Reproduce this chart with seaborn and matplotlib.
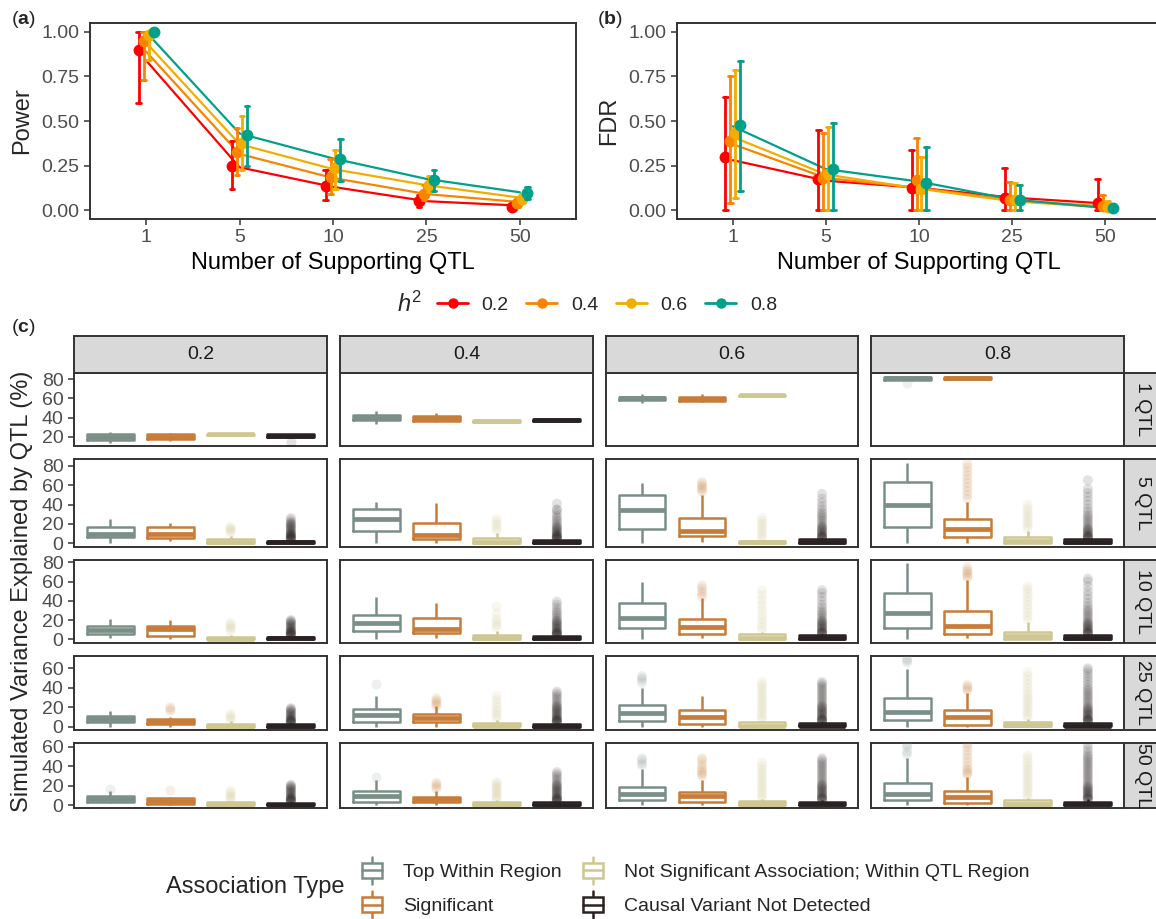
import numpy as np
import pandas as pd
import matplotlib
matplotlib.use("Agg")
import matplotlib.pyplot as plt
import seaborn as sns
from matplotlib.patches import Rectangle, Patch
from matplotlib.lines import Line2D
from matplotlib.legend_handler import HandlerBase

# ---------------- data: panels (a) and (b) ----------------
QTL_LABELS = ["1", "5", "10", "25", "50"]
H2_LEVELS = ["0.2", "0.4", "0.6", "0.8"]
H2_COLORS = ["#FF0000", "#F98400", "#F2AD00", "#00A08A"]

POWER_MED = [
    [0.90, 0.25, 0.136, 0.05, 0.02],
    [0.95, 0.327, 0.187, 0.093, 0.04],
    [0.98, 0.374, 0.234, 0.14, 0.065],
    [1.00, 0.42, 0.284, 0.168, 0.097],
]
POWER_LO = [
    [0.60, 0.116, 0.056, 0.019, 0.01],
    [0.73, 0.196, 0.088, 0.056, 0.02],
    [0.84, 0.224, 0.121, 0.103, 0.045],
    [0.99, 0.249, 0.163, 0.107, 0.065],
]
POWER_HI = [
    [1.00, 0.39, 0.224, 0.082, 0.032],
    [1.00, 0.46, 0.284, 0.14, 0.06],
    [1.00, 0.527, 0.336, 0.19, 0.09],
    [1.00, 0.583, 0.398, 0.224, 0.127],
]
POWER_LINE = [
    [0.84, 0.24, 0.13, 0.05, 0.025],
    [0.89, 0.315, 0.18, 0.09, 0.045],
    [0.94, 0.37, 0.23, 0.14, 0.07],
    [1.00, 0.43, 0.29, 0.175, 0.10],
]

FDR_MED = [
    [0.30, 0.174, 0.125, 0.07, 0.037],
    [0.39, 0.18, 0.168, 0.056, 0.022],
    [0.43, 0.205, 0.12, 0.056, 0.015],
    [0.475, 0.228, 0.153, 0.056, 0.01],
]
FDR_LO = [
    [0.0, 0.0, 0.0, 0.0, 0.0],
    [0.04, 0.0, 0.0, 0.0, 0.0],
    [0.07, 0.0, 0.0, 0.0, 0.0],
    [0.108, 0.0, 0.0, 0.0, 0.0],
]
FDR_HI = [
    [0.632, 0.449, 0.336, 0.234, 0.174],
    [0.75, 0.434, 0.405, 0.159, 0.084],
    [0.785, 0.467, 0.30, 0.153, 0.05],
    [0.835, 0.486, 0.355, 0.14, 0.02],
]
FDR_LINE = [
    [0.28, 0.165, 0.125, 0.07, 0.037],
    [0.37, 0.18, 0.125, 0.055, 0.02],
    [0.41, 0.20, 0.12, 0.05, 0.015],
    [0.47, 0.23, 0.16, 0.06, 0.012],
]

# ---------------- data: panel (c) ----------------
TYPES = ["Top Within Region", "Significant",
         "Not Significant Association; Within QTL Region",
         "Causal Variant Not Detected"]
TYPE_COLORS = ["#7A8F86", "#C87C38", "#CFC791", "#2A2222"]
H2_FACETS = ["0.2", "0.4", "0.6", "0.8"]
QTL_ROWS = ["1 QTL", "5 QTL", "10 QTL", "25 QTL", "50 QTL"]
ROW_YLIM = [(10.2, 87), (-3.8, 86.6), (-3.5, 82.7), (-3.8, 73), (-3.1, 63.8)]
ROW_TICKS = [[20, 40, 60, 80], [0, 20, 40, 60, 80], [0, 20, 40, 60, 80],
             [0, 20, 40, 60], [0, 20, 40, 60]]

# box summaries: [whisker low, q1, median, q3, whisker high]; rows = QTL, cols = h2
TOP_STATS = [
    [[13, 17, 20, 23, 25], [33, 37.5, 40, 43, 46.5], [55.6, 58, 60, 62, 64.7], [79, 79.5, 81, 82.5, 83]],
    [[0, 6.9, 9.3, 17.2, 24.7], [0.7, 13, 24.7, 35.4, 42.3], [0, 14.8, 34, 50.2, 61.9], [0, 16.5, 39.2, 63.6, 83.2]],
    [[1, 5.5, 9.7, 14, 20.8], [0, 8.3, 17.3, 25.6, 43.6], [0, 11.4, 22.5, 37.4, 60], [0, 11.4, 27, 48.4, 79]],
    [[0, 4.8, 7.9, 11, 16], [0, 5.1, 12.3, 17.8, 31.5], [0, 6.2, 14.4, 22.3, 40], [0, 6.5, 15.4, 29, 59]],
    [[2, 3.8, 6.5, 9.9, 14.7], [0, 3.8, 10, 14.7, 26], [0, 5.5, 11.6, 19, 37.2], [0, 5.1, 12, 23.2, 48]],
]
SIG_STATS = [
    [[15, 17.5, 20, 22.5, 24], [35, 36, 39.5, 42, 44.5], [56, 57.5, 59.8, 62, 65], [80, 80, 81, 82, 82]],
    [[2, 5, 10, 17, 21], [0, 4.8, 9, 21.3, 41.6], [1, 7.6, 12.7, 25.8, 49.8], [0, 6.9, 14.4, 24.7, 42.3]],
    [[0, 3.8, 10.4, 13.5, 20], [1, 6.2, 11, 21.8, 38], [1, 5.5, 12.5, 21, 42.6], [1, 5.5, 13.8, 29.4, 61.6]],
    [[0, 3, 5.8, 7.9, 10], [0, 4.5, 8.6, 12.7, 21.2], [0, 3, 9.6, 16.8, 31.5], [0, 1.7, 10.3, 17, 35]],
    [[0, 1, 4.4, 7.2, 8.9], [0, 3, 6.5, 8.9, 15], [0, 3, 9.9, 14, 26], [0, 2.7, 8.9, 15, 29.4]],
]
NS_STATS = [
    [[21.5, 21.8, 22.5, 23.2, 23.5], [34.5, 35, 36, 37, 37.5], [62, 62.5, 63.3, 64, 64.5], None],
    [[0, 0.3, 1.5, 4, 7.6], [0, 0.3, 1.5, 5, 11], [0, 0.2, 1, 2.7, 3.5], [0, 0.5, 2, 6, 12.7]],
    [[0, 0.2, 0.5, 2.8, 4.5], [0, 0.3, 1, 4.5, 9], [0, 0.3, 1.5, 5.5, 8], [0, 0.5, 3.5, 8, 18.3]],
    [[0, 0.1, 0.5, 3, 5.8], [0, 0.2, 0.5, 3.4, 6.8], [0, 0.3, 1, 4.5, 6], [0, 0.4, 1.5, 5, 8]],
    [[0, 0.1, 0.5, 3, 4], [0, 0.2, 0.5, 3.4, 5], [0, 0.3, 1, 4.8, 6], [0, 0.4, 1.5, 5.5, 7]],
]
CAUSAL_STATS = [
    [[19, 19.5, 21, 22.5, 23], [35.5, 36, 37, 38, 38.5], None, None],
    [[0, 0.2, 1, 2.4, 3], [0, 0.2, 1, 3.4, 4], [0, 0.3, 1.5, 4, 5], [0, 0.3, 1.5, 4, 5]],
    [[0, 0.2, 1, 2.8, 3.5], [0, 0.2, 1, 3.5, 4], [0, 0.3, 1.5, 4, 5.5], [0, 0.3, 1.5, 4, 5.5]],
    [[0, 0.1, 0.5, 2.7, 3.5], [0, 0.1, 0.5, 3, 4], [0, 0.2, 1, 3.6, 5], [0, 0.2, 1, 3.6, 5]],
    [[0, 0.1, 0.5, 2, 3], [0, 0.1, 0.5, 3, 3.5], [0, 0.2, 1, 3.6, 5.5], [0, 0.2, 1, 3.8, 6]],
]

# outlying points
TOP_OUT = [
    [[], [], [], [76.5]],
    [[], [], [], []],
    [[], [], [], []],
    [[], [44], [45, 48, 50, 52], [66, 68, 70]],
    [[16.7], [29.4], [41, 43, 46, 48], [52, 55, 60, 62]],
]
SIG_OUT = [
    [[], [], [], []],
    [[], [], [53, 55, 57, 59, 61, 63], [46, 50, 54, 58, 62, 66, 70, 74, 78, 82]],
    [[], [], [44, 47, 50, 53, 56], [64, 66, 68, 70, 72, 75]],
    [[16, 18, 20], [21, 23, 25, 27, 29], [], [37, 39, 41, 43]],
    [[15.7], [17, 19, 21, 23], [30, 32, 34, 36, 39, 42, 46, 48], [31, 33, 35, 37, 40, 44, 48, 52, 56, 60, 63]],
]
NS_OUT = [
    [[], [], [], []],
    [[11, 12.5, 14, 15.5, 17], [13, 16, 19, 22, 25], [5, 8, 11, 14, 17, 20, 23, 26],
     [15, 18, 21, 24, 27, 30, 33, 36, 40]],
    [[9, 11, 13, 15, 17], [12, 15, 18, 21, 27, 34], [9, 13, 17, 21, 26, 31, 36, 41, 46, 51],
     [20, 24, 28, 32, 36, 40, 44, 48, 52, 55]],
    [[7, 9, 11, 13], [8, 11, 14, 17, 20, 24, 28, 32],
     [7, 10, 13, 16, 19, 22, 25, 28, 31, 34, 37, 40, 43, 46],
     [9, 12, 15, 18, 21, 24, 27, 30, 33, 36, 40, 44, 48, 52, 56]],
    [[5, 7, 9, 11, 13, 15], [6, 8, 10, 12, 14, 16, 18, 20, 22, 24],
     [7, 10, 13, 16, 19, 22, 25, 28, 31, 34, 37, 40, 44],
     [8, 11, 14, 17, 20, 23, 26, 29, 32, 35, 38, 41, 44, 48, 51]],
]
CAUSAL_OUT = [
    [[14], [], [], []],
    [[3.5, 4, 4.5, 5, 5.5, 6, 6.5, 7, 7.5, 8, 8.5, 9, 9.5, 10, 11, 12, 13, 14, 15, 16, 17, 18, 19, 20, 21, 22, 24, 26],
     [4, 4.5, 5, 5.5, 6, 6.5, 7, 7.5, 8, 8.5, 9, 10, 11, 12, 13, 14, 15, 16, 17, 18, 20, 22, 24, 26, 28, 31, 34, 35, 41],
     [5, 5.5, 6, 6.5, 7, 7.5, 8, 9, 10, 11, 12, 13, 14, 15, 16, 17, 18, 20, 22, 24, 26, 28, 30, 32, 35, 38, 42, 46, 51],
     [5, 5.5, 6, 6.5, 7, 7.5, 8, 9, 10, 11, 12, 13, 14, 15, 16, 18, 20, 22, 24, 26, 28, 30, 33, 36, 40, 44, 48, 52, 56, 65]],
    [[3.5, 4, 4.5, 5, 5.5, 6, 6.5, 7, 7.5, 8, 8.5, 9, 10, 11, 12, 13, 14, 15, 16, 17, 18, 19, 20],
     [4, 4.5, 5, 5.5, 6, 6.5, 7, 7.5, 8, 9, 10, 11, 12, 13, 14, 15, 16, 17, 18, 19, 20, 22, 24, 26, 28, 30, 33, 36, 39],
     [5.5, 6, 6.5, 7, 7.5, 8, 9, 10, 11, 12, 13, 14, 15, 16, 17, 18, 19, 20, 22, 24, 26, 28, 30, 33, 36, 40, 44, 48, 51],
     [5.5, 6, 6.5, 7, 7.5, 8, 9, 10, 11, 12, 13, 14, 15, 16, 17, 18, 20, 22, 24, 26, 28, 30, 32, 35, 38, 42, 46, 50, 55, 60, 63]],
    [[3.5, 4, 4.5, 5, 5.5, 6, 6.5, 7, 7.5, 8, 9, 10, 11, 12, 13, 14, 15, 16, 17, 18, 19],
     [4, 4.5, 5, 5.5, 6, 6.5, 7, 7.5, 8, 9, 10, 11, 12, 13, 14, 15, 16, 17, 18, 19, 20, 21, 22, 24, 26, 28, 30, 32, 34, 36],
     [5, 5.5, 6, 6.5, 7, 7.5, 8, 9, 10, 11, 12, 13, 14, 15, 16, 17, 18, 19, 20, 21, 22, 24, 26, 28, 30, 32, 34, 36, 38, 40, 42, 44, 46],
     [5, 5.5, 6, 6.5, 7, 7.5, 8, 9, 10, 11, 12, 13, 14, 15, 16, 17, 18, 19, 20, 22, 24, 26, 28, 30, 32, 34, 36, 38, 40, 43, 46, 49, 52, 55, 58, 60]],
    [[3.5, 4, 4.5, 5, 5.5, 6, 6.5, 7, 7.5, 8, 9, 10, 11, 12, 13, 14, 15, 16, 17, 18, 19, 20, 21],
     [4, 4.5, 5, 5.5, 6, 6.5, 7, 7.5, 8, 9, 10, 11, 12, 13, 14, 15, 16, 17, 18, 19, 20, 21, 22, 24, 26, 28, 30, 32, 34],
     [5.5, 6, 6.5, 7, 7.5, 8, 9, 10, 11, 12, 13, 14, 15, 16, 17, 18, 19, 20, 21, 22, 24, 26, 28, 30, 32, 34, 36, 38, 40, 42, 44, 46, 48],
     [6, 6.5, 7, 7.5, 8, 9, 10, 11, 12, 13, 14, 15, 16, 17, 18, 19, 20, 22, 24, 26, 28, 30, 32, 34, 36, 38, 40, 42, 44, 46, 48, 50, 52, 55, 58, 62]],
]

# ---------------- style ----------------
sns.set_theme(style="ticks")
plt.rcParams['font.family'] = ['Liberation Sans', 'DejaVu Sans']
plt.rcParams['mathtext.fontset'] = 'custom'
plt.rcParams['mathtext.rm'] = 'Liberation Sans'
plt.rcParams['mathtext.it'] = 'Liberation Sans:italic'
plt.rcParams['mathtext.bf'] = 'Liberation Sans:bold'

FRAME = "#333333"
TICKLAB = "#4D4D4D"

W, H = 1156, 919
fig = plt.figure(figsize=(W / 100, H / 100), dpi=100)
fig.patch.set_facecolor("white")


def px_axes(x0, y0, x1, y1):
    return fig.add_axes([x0 / W, 1 - y1 / H, (x1 - x0) / W, (y1 - y0) / H])


def style_frame(ax):
    for s in ax.spines.values():
        s.set_visible(True)
        s.set_color(FRAME)
        s.set_linewidth(1.4)
    ax.tick_params(colors=FRAME, labelcolor=TICKLAB, labelsize=14, length=4.5, width=1.1, pad=3)


def line_panel(ax, med, lo, hi, line):
    rows = []
    for i, h in enumerate(H2_LEVELS):
        for j, q in enumerate(QTL_LABELS):
            for v in (lo[i][j], med[i][j], hi[i][j]):
                rows.append((q, h, v))
    pdf = pd.DataFrame(rows, columns=["qtl", "h2", "val"])
    ldf = pd.DataFrame([(q, h, line[i][j]) for i, h in enumerate(H2_LEVELS)
                        for j, q in enumerate(QTL_LABELS)], columns=["qtl", "h2", "val"])
    pal = dict(zip(H2_LEVELS, H2_COLORS))
    sns.lineplot(data=ldf, x="qtl", y="val", hue="h2", hue_order=H2_LEVELS, palette=pal,
                 linewidth=1.6, errorbar=None, sort=False, legend=False, ax=ax)
    sns.pointplot(data=pdf, x="qtl", y="val", hue="h2", order=QTL_LABELS, hue_order=H2_LEVELS,
                  palette=pal, estimator="median", errorbar=("pi", 100), dodge=0.16,
                  linestyle="none", markers="o", markersize=6.5, capsize=0.05,
                  err_kws={"linewidth": 2.0}, legend=False, ax=ax)
    ax.set_xlim(-0.6, 4.6)
    ax.set_ylim(-0.05, 1.05)
    ax.set_yticks([0, 0.25, 0.5, 0.75, 1.0])
    ax.set_yticklabels(["0.00", "0.25", "0.50", "0.75", "1.00"])
    ax.set_xticks(range(len(QTL_LABELS)))
    ax.set_xticklabels(QTL_LABELS)
    ax.set_xlabel("Number of Supporting QTL", fontsize=17, color="black", labelpad=4)
    ax.set_ylabel("")
    style_frame(ax)


ax_a = px_axes(90, 23, 576, 219)
line_panel(ax_a, POWER_MED, POWER_LO, POWER_HI, POWER_LINE)
ax_b = px_axes(677, 23, 1161, 219)
line_panel(ax_b, FDR_MED, FDR_LO, FDR_HI, FDR_LINE)

fig.text(22 / W, 1 - 121 / H, "Power", rotation=90, fontsize=17, ha="center", va="center")
fig.text(609 / W, 1 - 121 / H, "FDR", rotation=90, fontsize=17, ha="center", va="center")
fig.text(11 / W, 1 - 19 / H, r"($\mathbf{a}$)", fontsize=14, ha="left", va="center")
fig.text(597 / W, 1 - 19 / H, r"($\mathbf{b}$)", fontsize=14, ha="left", va="center")
fig.text(11 / W, 1 - 327 / H, r"($\mathbf{c}$)", fontsize=14, ha="left", va="center")

# h2 legend
fig.text(410 / W, 1 - 304 / H, r"$h^2$", fontsize=17, ha="center", va="center")
h2_handles = [Line2D([0], [0], color=c, marker="o", markersize=6.5, linewidth=2) for c in H2_COLORS]
fig.legend(h2_handles, H2_LEVELS, loc="center left", bbox_to_anchor=(437 / W, 1 - 305 / H),
           ncol=4, frameon=False, fontsize=14, handlelength=1.6, handletextpad=0.7,
           columnspacing=0.9, borderpad=0, borderaxespad=0)

# ---------------- panel (c) ----------------
box_stats = [TOP_STATS, SIG_STATS, NS_STATS, CAUSAL_STATS]
box_outs = [TOP_OUT, SIG_OUT, NS_OUT, CAUSAL_OUT]
recs, orecs = [], []
for t, name in enumerate(TYPES):
    for r in range(len(QTL_ROWS)):
        for c in range(len(H2_FACETS)):
            st = box_stats[t][r][c]
            if st is not None:
                for v in st:
                    recs.append((QTL_ROWS[r], H2_FACETS[c], name, v))
            for v in box_outs[t][r][c]:
                orecs.append((QTL_ROWS[r], H2_FACETS[c], name, v))
box_df = pd.DataFrame(recs, columns=["qtl", "h2", "type", "val"])
out_df = pd.DataFrame(orecs, columns=["qtl", "h2", "type", "val"])
type_pal = dict(zip(TYPES, TYPE_COLORS))

ROW_Y = [(372.7, 446), (459.3, 547), (559.7, 642.7), (655.7, 730.3), (743, 808.3)]
COL_X = [(74, 327), (340, 593), (606, 858), (871, 1124)]
STRIP_Y = (335.7, 372.7)
RSTRIP_X = (1124, 1161)
STRIP_FILL = "#D9D9D9"

for r, qrow in enumerate(QTL_ROWS):
    for c, hcol in enumerate(H2_FACETS):
        ax = px_axes(COL_X[c][0], ROW_Y[r][0], COL_X[c][1], ROW_Y[r][1])
        osub = out_df[(out_df.qtl == qrow) & (out_df.h2 == hcol)]
        if len(osub):
            sns.stripplot(data=osub, x="type", y="val", hue="type", order=TYPES, hue_order=TYPES,
                          palette=type_pal, jitter=False, size=7.2, alpha=0.13, linewidth=0,
                          legend=False, ax=ax)
        bsub = box_df[(box_df.qtl == qrow) & (box_df.h2 == hcol)]
        sns.boxplot(data=bsub, x="type", y="val", hue="type", order=TYPES, hue_order=TYPES,
                    palette=type_pal, fill=False, whis=(0, 100), width=0.78, linewidth=1.8,
                    medianprops={"linewidth": 3.4}, capprops={"linewidth": 0},
                    legend=False, ax=ax)
        ax.set_xlim(-0.6, 3.6)
        ax.set_ylim(*ROW_YLIM[r])
        ax.set_xlabel("")
        ax.set_ylabel("")
        ax.set_xticks([])
        style_frame(ax)
        if c == 0:
            ax.set_yticks(ROW_TICKS[r])
            ax.set_yticklabels([str(v) for v in ROW_TICKS[r]])
        else:
            ax.set_yticks([])
    # right strip
    sax = px_axes(RSTRIP_X[0], ROW_Y[r][0], RSTRIP_X[1], ROW_Y[r][1])
    sax.set_facecolor(STRIP_FILL)
    sax.set_xticks([]); sax.set_yticks([])
    for s in sax.spines.values():
        s.set_color(FRAME); s.set_linewidth(1.4)
    sax.text(0.5, 0.5, qrow, rotation=-90, ha="center", va="center", fontsize=14,
             color="#1A1A1A", transform=sax.transAxes)

for c, hcol in enumerate(H2_FACETS):
    sax = px_axes(COL_X[c][0], STRIP_Y[0], COL_X[c][1], STRIP_Y[1])
    sax.set_facecolor(STRIP_FILL)
    sax.set_xticks([]); sax.set_yticks([])
    for s in sax.spines.values():
        s.set_color(FRAME); s.set_linewidth(1.4)
    sax.text(0.5, 0.5, hcol, ha="center", va="center", fontsize=14, color="#1A1A1A",
             transform=sax.transAxes)

fig.text(22 / W, 1 - 591 / H, "Simulated Variance Explained by QTL (%)", rotation=90,
         fontsize=17, ha="center", va="center")


# ---------------- association legend ----------------
class BoxHandler(HandlerBase):
    def create_artists(self, legend, orig_handle, xdescent, ydescent, width, height, fontsize, trans):
        col = orig_handle.get_edgecolor()
        x0, y0 = -xdescent, -ydescent
        bw = width * 0.8
        bx0 = x0 + (width - bw) / 2
        xm = x0 + width / 2
        yb0, yb1 = y0 + 0.2 * height, y0 + 0.8 * height
        ym = (yb0 + yb1) / 2
        rect = Rectangle((bx0, yb0), bw, yb1 - yb0, facecolor="white", edgecolor=col,
                         linewidth=1.8, transform=trans)
        med = Line2D([bx0, bx0 + bw], [ym, ym], color=col, linewidth=1.8, transform=trans)
        w1 = Line2D([xm, xm], [yb1, y0 + height], color=col, linewidth=1.8, transform=trans)
        w2 = Line2D([xm, xm], [y0, yb0], color=col, linewidth=1.8, transform=trans)
        return [w1, w2, rect, med]


box_handles = [Patch(facecolor="white", edgecolor=c, label=t) for t, c in zip(TYPES, TYPE_COLORS)]
fig.text(255 / W, 1 - 887 / H, "Association Type", fontsize=17, ha="center", va="center")
fig.legend(handles=box_handles, labels=TYPES, handler_map={Patch: BoxHandler()},
           loc="center left", bbox_to_anchor=(360 / W, 1 - 887.5 / H), ncol=2, frameon=False,
           fontsize=14, handlelength=1.25, handleheight=1.7, labelspacing=0.4,
           handletextpad=0.95, columnspacing=1.0, borderpad=0, borderaxespad=0)

fig.savefig("out.png", dpi=100)
